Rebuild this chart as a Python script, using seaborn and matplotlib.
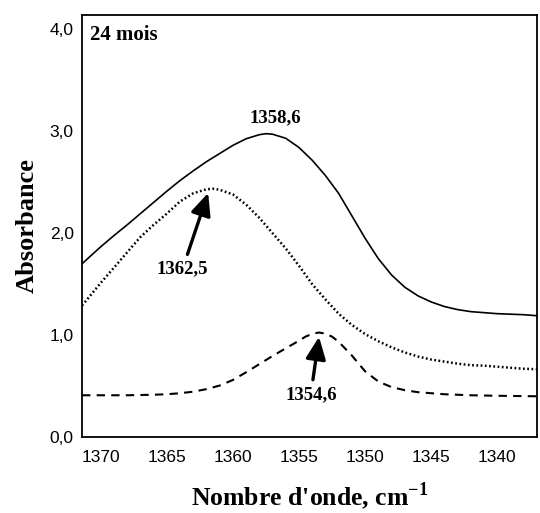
import matplotlib

matplotlib.use("Agg")
import matplotlib.pyplot as plt
import pandas as pd
import seaborn as sns

# nombre d'onde (cm-1)
wn_solid = [1371.4, 1370, 1369, 1368, 1367, 1366, 1365, 1364, 1363, 1362, 1361, 1360,
            1359, 1358, 1357.5, 1357, 1356, 1355, 1354, 1353, 1352, 1351, 1350, 1349,
            1348, 1347, 1346, 1345, 1344, 1343, 1342, 1341, 1340, 1339, 1338, 1337]
abs_solid = [1.70, 1.865, 1.975, 2.08, 2.19, 2.30, 2.41, 2.515, 2.61, 2.70, 2.78, 2.86,
             2.925, 2.965, 2.975, 2.97, 2.93, 2.84, 2.715, 2.565, 2.39, 2.17, 1.95, 1.75,
             1.59, 1.47, 1.385, 1.325, 1.28, 1.25, 1.23, 1.22, 1.21, 1.205, 1.20, 1.19]

wn_dotted = [1371.4, 1370, 1369, 1368, 1367, 1366, 1365, 1364, 1363, 1362, 1361.5, 1361,
             1360, 1359, 1358, 1357, 1356, 1355, 1354, 1353, 1352, 1351, 1350, 1349,
             1348, 1347, 1346, 1345, 1344, 1343, 1342, 1341, 1340, 1339, 1338, 1337]
abs_dotted = [1.29, 1.51, 1.66, 1.81, 1.96, 2.08, 2.19, 2.31, 2.39, 2.43, 2.435, 2.425,
              2.38, 2.28, 2.15, 2.00, 1.85, 1.68, 1.50, 1.35, 1.21, 1.10, 1.01, 0.94,
              0.88, 0.83, 0.79, 0.76, 0.74, 0.72, 0.705, 0.70, 0.69, 0.68, 0.67, 0.665]

wn_dashed = [1371.4, 1368, 1366, 1365, 1364, 1363, 1362, 1361, 1360, 1359, 1358, 1357,
             1356, 1355, 1354.5, 1354, 1353.5, 1353, 1352.5, 1352, 1351, 1350, 1349, 1348,
             1347, 1346, 1345, 1344, 1342, 1340, 1337]
abs_dashed = [0.41, 0.41, 0.415, 0.42, 0.43, 0.445, 0.47, 0.505, 0.56, 0.635, 0.715, 0.795,
              0.87, 0.945, 0.985, 1.012, 1.025, 1.015, 0.985, 0.935, 0.80, 0.645, 0.545, 0.49,
              0.46, 0.44, 0.43, 0.42, 0.41, 0.405, 0.40]

peak_labels = ["1358,6", "1362,5", "1354,6"]

sns.set_style("white")
plt.rcParams["font.family"] = ["Liberation Sans", "DejaVu Sans"]
plt.rcParams["text.color"] = "black"
plt.rcParams["axes.labelcolor"] = "black"
plt.rcParams["mathtext.fontset"] = "custom"
plt.rcParams["mathtext.rm"] = "Liberation Serif"
plt.rcParams["mathtext.bf"] = "Liberation Serif:bold"

fig = plt.figure(figsize=(5.4, 5.13), dpi=100)
ax = fig.add_axes([0.152, 0.148, 0.8424, 0.823])

sns.lineplot(data=pd.DataFrame({"wn": wn_solid, "a": abs_solid}), x="wn", y="a",
             ax=ax, color="black", lw=1.2, sort=False)
sns.lineplot(data=pd.DataFrame({"wn": wn_dotted, "a": abs_dotted}), x="wn", y="a",
             ax=ax, color="black", lw=1.8, sort=False, linestyle=(0, (0.7, 1.0)))
sns.lineplot(data=pd.DataFrame({"wn": wn_dashed, "a": abs_dashed}), x="wn", y="a",
             ax=ax, color="black", lw=1.5, sort=False, linestyle=(0, (4, 3)))

ax.set_xlim(1371.4, 1337)
ax.set_ylim(0, 4.14)
ax.set_xticks([1370, 1365, 1360, 1355, 1350, 1345, 1340])
ax.set_yticks([0, 1, 2, 3, 4])
ax.set_yticklabels(["0,0", "1,0", "2,0", "3,0", "4,0"])
ax.tick_params(length=0, labelsize=12.5, colors="black")
ax.tick_params(axis="x", pad=9)
ax.tick_params(axis="y", pad=6)
for sp in ax.spines.values():
    sp.set_color("black")
    sp.set_linewidth(1.3)

serif = dict(family="Liberation Serif", fontweight="bold")
ax.set_xlabel(r"Nombre d'onde, cm$^{\mathbf{-1}}$", fontsize=18.5, labelpad=11, **serif)
ax.set_ylabel("Absorbance", fontsize=19, labelpad=8, **serif)

ax.text(0.018, 0.975, "24 mois", transform=ax.transAxes, ha="left", va="top",
        fontsize=15, **serif)

# pics : le premier sans flèche, les deux autres avec flèche
ax.text(1356.75, 3.13, peak_labels[0], ha="center", va="center", fontsize=13.5, **serif)
arrow = dict(arrowstyle="-|>,head_length=1.0,head_width=0.45", color="black", lw=2.4)
ax.annotate(peak_labels[1], xy=(1361.8, 2.42), xytext=(1363.8, 1.65),
            ha="center", va="center", fontsize=13.5, arrowprops=arrow, **serif)
ax.annotate(peak_labels[2], xy=(1353.45, 1.01), xytext=(1354.1, 0.42),
            ha="center", va="center", fontsize=13.5, arrowprops=arrow, **serif)

fig.savefig("out.png", dpi=100)
